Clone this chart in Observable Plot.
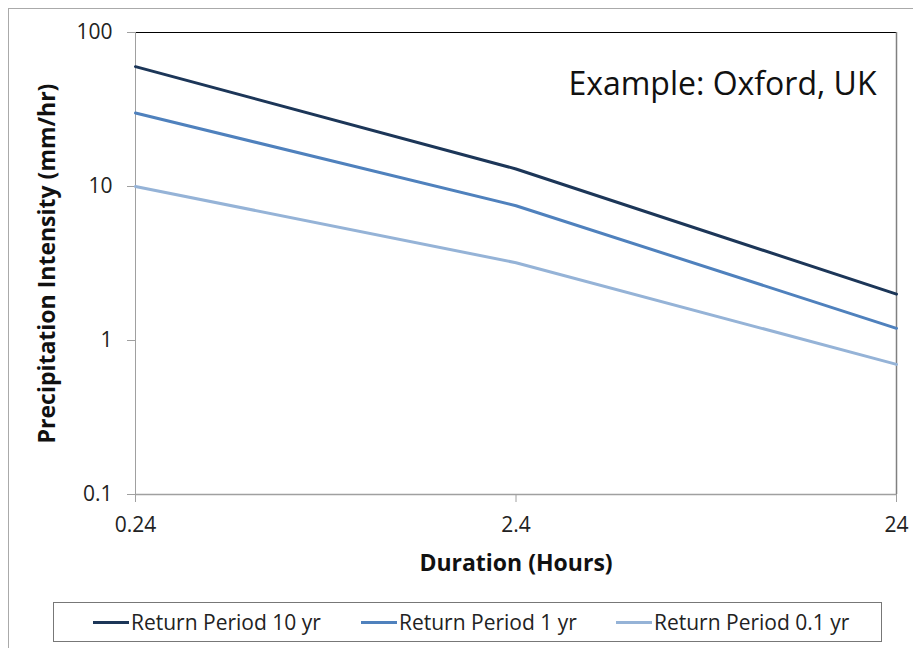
<!DOCTYPE html>
<html>
<head>
<meta charset="utf-8">
<script src="https://cdn.jsdelivr.net/npm/d3@7"></script>
<script src="https://cdn.jsdelivr.net/npm/@observablehq/plot@0.6"></script>
<style>
  body { margin: 0; background: #fff; overflow: hidden; }
  #page { position: relative; width: 913px; height: 648px; font-family: "Open Sans", sans-serif; }
  #frame { position: absolute; left: 8px; top: 8px; width: 920px; height: 660px; border-left: 1px solid #aaa; border-top: 1px solid #aaa; box-sizing: border-box; }
  #chart { position: absolute; left: 0; top: 0; }
  #legend { position: absolute; left: 53px; top: 602px; width: 829px; height: 40px; border: 1px solid #777; box-sizing: border-box; font-size: 21px; color: #222; }
  .item { position: absolute; top: 0; height: 38px; display: flex; align-items: center; }
  .swatch { display: inline-block; width: 36px; height: 3px; margin-right: 2px; }
</style>
</head>
<body>
<div id="page">
  <div id="frame"></div>
  <div id="chart"></div>
  <div id="legend"></div>
</div>
<script>
const durations = [0.24, 2.4, 24];
const seriesNames = ["Return Period 10 yr", "Return Period 1 yr", "Return Period 0.1 yr"];
const rp10 = [60, 13, 2.0];
const rp1 = [30, 7.5, 1.2];
const rp01 = [10, 3.2, 0.7];
const colors = ["#1c3658", "#4f81bd", "#95b3d7"];
const xTicks = [0.24, 2.4, 24];
const yTicks = [0.1, 1, 10, 100];
const annotation = "Example: Oxford, UK";

const seriesValues = [rp10, rp1, rp01];
const data = [];
seriesNames.forEach((name, i) => {
  durations.forEach((d, j) => data.push({ series: name, duration: d, value: seriesValues[i][j] }));
});

const chart = Plot.plot({
  width: 913,
  height: 600,
  marginLeft: 135,
  marginRight: 17,
  marginTop: 32,
  marginBottom: 106,
  style: { fontFamily: "'Open Sans', sans-serif", background: "transparent", overflow: "visible" },
  x: { type: "log", domain: [0.24, 24] },
  y: { type: "log", domain: [0.1, 100] },
  color: { domain: seriesNames, range: colors },
  marks: [
    Plot.ruleY([100], { stroke: "#000", strokeWidth: 1 }),
    Plot.ruleX([24], { stroke: "#808080", strokeWidth: 1.5 }),
    Plot.ruleX([0.24], { stroke: "#a0a0a0", strokeWidth: 1 }),
    Plot.ruleY([0.1], { stroke: "#a0a0a0", strokeWidth: 1.5 }),
    Plot.axisY({ ticks: yTicks, tickFormat: d => String(d), tickSize: 8, tickPadding: 15, stroke: "#a0a0a0", fontSize: 21, fill: "#222", label: null }),
    Plot.axisX({ ticks: xTicks, tickFormat: d => String(d), tickSize: 8, tickPadding: 15, stroke: "#a0a0a0", fontSize: 21, fill: "#222", label: null }),
    Plot.text(["Duration (Hours)"], { frameAnchor: "bottom", dy: 69, lineAnchor: "middle", fontSize: 23, fontWeight: "bold", fill: "#111" }),
    Plot.text(["Precipitation Intensity (mm/hr)"], { frameAnchor: "left", dx: -88, rotate: -90, textAnchor: "middle", fontSize: 23, fontWeight: "bold", fill: "#111" }),
    Plot.line(data, { x: "duration", y: "value", z: "series", stroke: "series", strokeWidth: 3 }),
    Plot.text([annotation], { frameAnchor: "top-right", dx: -20, dy: 52, lineAnchor: "middle", textAnchor: "end", fontSize: 32, fill: "#111" })
  ]
});
document.getElementById("chart").appendChild(chart);

const legend = document.getElementById("legend");
const lefts = [39, 307, 562];
seriesNames.forEach((name, i) => {
  const item = document.createElement("div");
  item.className = "item";
  item.style.left = lefts[i] + "px";
  const sw = document.createElement("span");
  sw.className = "swatch";
  sw.style.background = colors[i];
  item.appendChild(sw);
  const t = document.createElement("span");
  t.textContent = name;
  item.appendChild(t);
  legend.appendChild(item);
});
</script>
</body>
</html>
